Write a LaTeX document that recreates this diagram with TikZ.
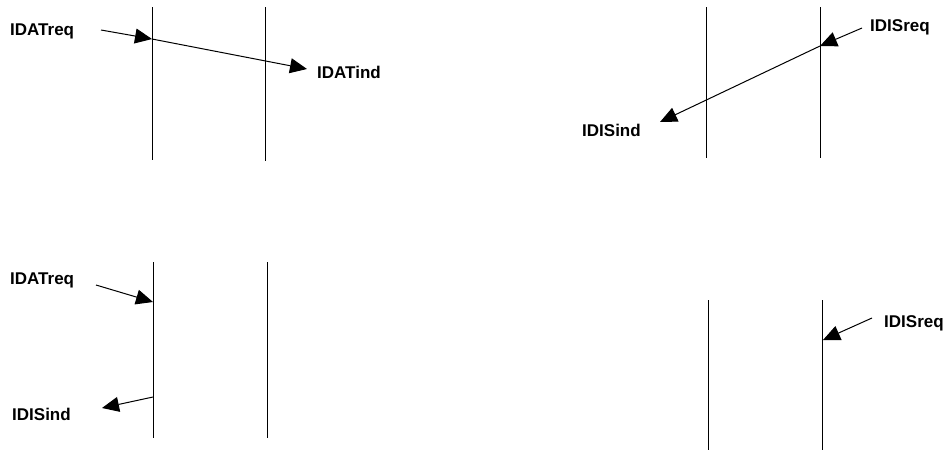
\documentclass[tikz,border=0pt]{standalone}
\usepackage{fontspec}
\setmainfont{Liberation Sans}
\usetikzlibrary{arrows.meta}
\begin{document}
\begin{tikzpicture}[x=1pt,y=-1pt,
  lifeline/.style={draw=black,line width=1pt},
  msg/.style={draw=black,line width=1pt,-{Triangle[length=17pt,width=15pt]}},
  lbl/.style={font=\fontsize{17}{20}\selectfont\bfseries,inner sep=0pt}]
\useasboundingbox (0,0) rectangle (951,451);

% --- upper left: IDATreq passes through both entities
\coordinate (a1t) at (152,7);   \coordinate (a1b) at (152,160);
\coordinate (a2t) at (265,7);   \coordinate (a2b) at (265,161);
\draw[lifeline] (a1t) -- (a1b);
\draw[lifeline] (a2t) -- (a2b);
\node[lbl,anchor=west] (reqA) at (10,31) {IDATreq};
\node[lbl,anchor=west] (indA) at (317,72) {IDATind};
\coordinate (sA) at (101,30);
\coordinate (hA) at (152,39);
\coordinate (eA) at (307,69);
\draw[msg] (sA) -- (hA);
\draw[msg] (hA) -- (eA);

% --- upper right: IDISreq passes through both entities
\coordinate (b1t) at (706,7);   \coordinate (b1b) at (706,158);
\coordinate (b2t) at (820,7);   \coordinate (b2b) at (820,158);
\draw[lifeline] (b1t) -- (b1b);
\draw[lifeline] (b2t) -- (b2b);
\node[lbl,anchor=west] (reqB) at (870,27) {IDISreq};
\node[lbl,anchor=west] (indB) at (582,130) {IDISind};
\coordinate (sB) at (862,28);
\coordinate (hB) at (820,46);
\coordinate (eB) at (660,122);
\draw[msg] (sB) -- (hB);
\draw[msg] (hB) -- (eB);

% --- lower left: IDATreq answered by IDISind
\coordinate (c1t) at (153,262); \coordinate (c1b) at (153,438);
\coordinate (c2t) at (267,262); \coordinate (c2b) at (267,438);
\draw[lifeline] (c1t) -- (c1b);
\draw[lifeline] (c2t) -- (c2b);
\node[lbl,anchor=west] (reqC) at (10,280) {IDATreq};
\node[lbl,anchor=west] (indC) at (12,414) {IDISind};
\coordinate (sC) at (96,285);
\coordinate (hC) at (153,302);
\coordinate (oC) at (153,397);
\coordinate (eC) at (102,408);
\draw[msg] (sC) -- (hC);
\draw[msg] (oC) -- (eC);

% --- lower right: IDISreq only
\coordinate (d1t) at (708,300); \coordinate (d1b) at (708,450);
\coordinate (d2t) at (822,300); \coordinate (d2b) at (822,450);
\draw[lifeline] (d1t) -- (d1b);
\draw[lifeline] (d2t) -- (d2b);
\node[lbl,anchor=west] (reqD) at (884,323) {IDISreq};
\coordinate (sD) at (872,318);
\coordinate (hD) at (823,340);
\draw[msg] (sD) -- (hD);
\end{tikzpicture}
\end{document}
